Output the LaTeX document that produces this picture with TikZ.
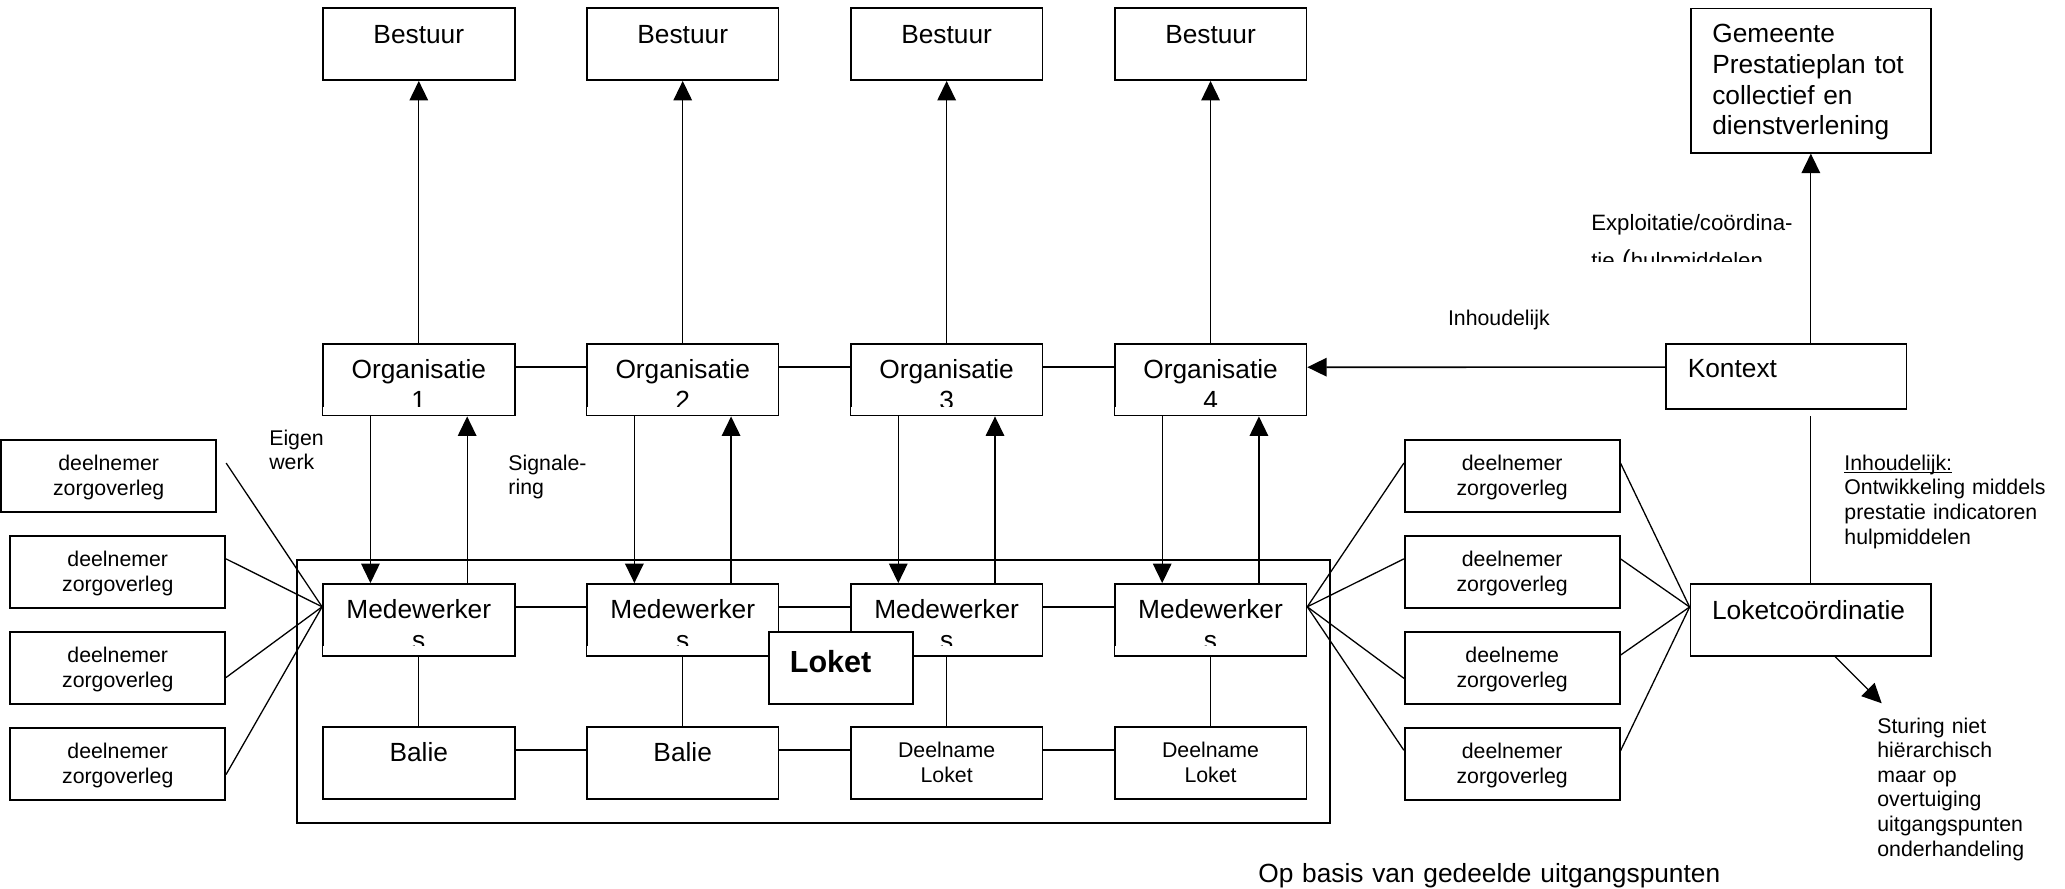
\documentclass[tikz,border=0pt]{standalone}
\usepackage{fontspec}
\setmainfont{Liberation Sans}
\usetikzlibrary{arrows.meta,positioning,calc}
\newcommand{\groot}{\fontsize{14.2}{16.6}\selectfont}
\newcommand{\klein}{\fontsize{11.5}{13.3}\selectfont}
\newcommand{\onderstreep}[1]{\setbox0\hbox{#1}\rlap{\rule[-1.5pt]{\wd0}{0.6pt}}\box0}

\begin{document}
\begin{tikzpicture}[> = {Triangle[length=10.5pt,width=10pt]}, line width=0.7pt]
            % Stijlen
            \tikzstyle{blok}=[draw, fill=white, line width=0.9pt, inner sep=0pt, align=center, font=\groot, text width=3.64cm, text height=18.85pt, text depth=19.92pt]
            \tikzstyle{deel}=[blok, font=\klein, text width=4.08cm, text height=16.5pt, text depth=22.27pt]
            \tikzstyle{tekstblok}=[blok, align=left, inner xsep=11.7pt, text width=4.5625cm-23.4pt]
            \tikzstyle{schakel}=[line width=0.9pt]
            \tikzstyle{tekst}=[anchor=base west, align=left, font=\klein, inner sep=0pt, text width=4.5cm]

            \useasboundingbox (0,0) rectangle (39.2,-16.875);

            % Kader rond het loket
            \node[draw, line width=0.9pt, minimum width=19.6125cm, minimum height=5cm, inner sep=0pt] (kader) at (15.444,-13.125) {};

            % Bestuur
            \node[blok] (b1) at (7.95,-0.839) {Bestuur};
            \node[blok] (b2) at (12.96,-0.839) {Bestuur};
            \node[blok] (b3) at (17.97,-0.839) {Bestuur};
            \node[blok] (b4) at (22.98,-0.839) {Bestuur};

            % Organisaties
            \node[blok] (o1) at (7.95,-7.2075) {Organisatie\\1};
            \node[blok] (o2) at (12.96,-7.2075) {Organisatie\\2};
            \node[blok] (o3) at (17.97,-7.2075) {Organisatie\\3};
            \node[blok] (o4) at (22.98,-7.2075) {Organisatie\\4};

            % Medewerkers
            \node[blok] (m1) at (7.95,-11.766) {Medewerker\\s};
            \node[blok] (m2) at (12.96,-11.766) {Medewerker\\s};
            \node[blok] (m3) at (17.97,-11.766) {Medewerker\\s};
            \node[blok] (m4) at (22.98,-11.766) {Medewerker\\s};

            % Balies
            \node[blok] (u1) at (7.95,-14.481) {Balie};
            \node[blok] (u2) at (12.96,-14.481) {Balie};
            \node[deel, text width=3.64cm] (u3) at (17.97,-14.481) {Deelname\\Loket};
            \node[deel, text width=3.64cm] (u4) at (22.98,-14.481) {Deelname\\Loket};

            % Deelnemers zorgoverleg
            \node[deel] (dl1) at (2.0625,-9.0375) {deelnemer\\zorgoverleg};
            \node[deel] (dl2) at (2.235,-10.856) {deelnemer\\zorgoverleg};
            \node[deel] (dl3) at (2.235,-12.683) {deelnemer\\zorgoverleg};
            \node[deel] (dl4) at (2.235,-14.5) {deelnemer\\zorgoverleg};
            \node[deel] (dr1) at (28.706,-9.0375) {deelnemer\\zorgoverleg};
            \node[deel] (dr2) at (28.706,-10.856) {deelnemer\\zorgoverleg};
            \node[deel] (dr3) at (28.706,-12.683) {deelneme\\zorgoverleg};
            \node[deel] (dr4) at (28.706,-14.5) {deelnemer\\zorgoverleg};

            % Gemeente, kontext en coordinatie
            \node[tekstblok, text height=18.5pt, text depth=59.5pt] (ge) at (34.375,-1.529) {Gemeente\\Prestatieplan tot\\collectief en\\dienstverlening};
            \node[tekstblok, text height=18.5pt, text depth=16.8pt] (ko) at (33.91,-7.145) {Kontext};
            \node[tekstblok] (lc) at (34.371,-11.77) {Loketcoördinatie};
            \coordinate (stuur) at (35.72,-13.35);

            % Teksten
            \node[tekst] (eigen) at (5.1,-8.45) {Eigen\\werk};
            \node[tekst] (signaal) at (9.64,-8.925) {Signale-\\ring};
            \node[tekst] (inhoud) at (27.475,-6.1875) {Inhoudelijk};
            \node[tekst] (ontwikkeling) at (35.0,-8.925) {\onderstreep{Inhoudelijk:}\\Ontwikkeling middels\\prestatie indicatoren\\hulpmiddelen};
            \node[tekst] (sturing) at (35.625,-13.915) {Sturing niet\\hiërarchisch\\maar op\\overtuiging\\uitgangspunten\\onderhandeling};
            \node[tekst, font=\groot, text width=9cm] (basis) at (23.875,-16.75) {Op basis van gedeelde uitgangspunten};
            \begin{scope}
                \clip (30,-3.6) rectangle (34.2,-4.9675);
                \node[tekst, font=\fontsize{12}{20.5}\selectfont] (exploitatie) at (30.195,-4.375) {Exploitatie/coördina-\\tie {\fontsize{14}{14}\selectfont(}hulpmiddelen};
            \end{scope}

            % Verbindingen naar bestuur
            \draw[->] (o1) -- (b1);
            \draw[->] (o2) -- (b2);
            \draw[->] (o3) -- (b3);
            \draw[->] (o4) -- (b4);

            % Eigen werk en signalering
            \draw[->] ($(o1.south west)!.25!(o1.south east)$) -- ($(m1.north west)!.25!(m1.north east)$);
            \draw[->] ($(m1.north west)!.75!(m1.north east)$) -- ($(o1.south west)!.75!(o1.south east)$);
            \draw[->] ($(o2.south west)!.25!(o2.south east)$) -- ($(m2.north west)!.25!(m2.north east)$);
            \draw[->] ($(m2.north west)!.75!(m2.north east)$) -- ($(o2.south west)!.75!(o2.south east)$);
            \draw[->] ($(o3.south west)!.25!(o3.south east)$) -- ($(m3.north west)!.25!(m3.north east)$);
            \draw[->] ($(m3.north west)!.75!(m3.north east)$) -- ($(o3.south west)!.75!(o3.south east)$);
            \draw[->] ($(o4.south west)!.25!(o4.south east)$) -- ($(m4.north west)!.25!(m4.north east)$);
            \draw[->] ($(m4.north west)!.75!(m4.north east)$) -- ($(o4.south west)!.75!(o4.south east)$);

            % Horizontale schakels
            \draw[schakel] ([yshift=-0.46cm]o1.north east) -- ([yshift=-0.46cm]o2.north west);
            \draw[schakel] ([yshift=-0.46cm]o2.north east) -- ([yshift=-0.46cm]o3.north west);
            \draw[schakel] ([yshift=-0.46cm]o3.north east) -- ([yshift=-0.46cm]o4.north west);
            \draw[schakel] ([yshift=-0.45cm]m1.north east) -- ([yshift=-0.45cm]m2.north west);
            \draw[schakel] ([yshift=-0.45cm]m2.north east) -- ([yshift=-0.45cm]m3.north west);
            \draw[schakel] ([yshift=-0.45cm]m3.north east) -- ([yshift=-0.45cm]m4.north west);
            \draw[schakel] ([yshift=-0.45cm]u1.north east) -- ([yshift=-0.45cm]u2.north west);
            \draw[schakel] ([yshift=-0.45cm]u2.north east) -- ([yshift=-0.45cm]u3.north west);
            \draw[schakel] ([yshift=-0.45cm]u3.north east) -- ([yshift=-0.45cm]u4.north west);
            \draw[schakel, ->] ([yshift=-0.46cm]ko.north west) -- ([yshift=-0.46cm]o4.north east);

            % Medewerkers naar balie
            \draw (m1) -- (u1);
            \draw (m2) -- (u2);
            \draw (m3) -- (u3);
            \draw (m4) -- (u4);

            % Zorgoverleg links
            \draw ([xshift=0.175cm,yshift=-0.45cm]dl1.north east) -- ([yshift=-0.45cm]m1.north west);
            \draw ([yshift=-0.45cm]dl2.north east) -- ([yshift=-0.45cm]m1.north west);
            \draw ([yshift=-0.875cm]dl3.north east) -- ([yshift=-0.45cm]m1.north west);
            \draw ([yshift=-0.9cm]dl4.north east) -- ([yshift=-0.45cm]m1.north west);

            % Zorgoverleg rechts
            \draw ([yshift=-0.45cm]m4.north east) -- ([yshift=-0.45cm]dr1.north west);
            \draw ([yshift=-0.45cm]m4.north east) -- ([yshift=-0.45cm]dr2.north west);
            \draw ([yshift=-0.45cm]m4.north east) -- ([yshift=-0.89cm]dr3.north west);
            \draw ([yshift=-0.45cm]m4.north east) -- ([yshift=-0.44cm]dr4.north west);
            \draw ([yshift=-0.45cm]dr1.north east) -- ([yshift=-0.45cm]lc.north west);
            \draw ([yshift=-0.45cm]dr2.north east) -- ([yshift=-0.45cm]lc.north west);
            \draw ([yshift=-0.45cm]dr3.north east) -- ([yshift=-0.45cm]lc.north west);
            \draw ([yshift=-0.45cm]dr4.north east) -- ([yshift=-0.45cm]lc.north west);

            % Kontext, gemeente en sturing
            \draw[->] (ge.south |- ko.north) -- (ge.south);
            \draw (lc.north) -- ([yshift=-0.125cm]lc.north |- ko.south);
            \draw[->] ([xshift=0.466cm]lc.south) -- (stuur);

            % Afgekapte tekst
            \fill[white] ([shift={(0.6pt,0.6pt)}]o1.south west) rectangle ([shift={(-0.6pt,0.18cm)}]o1.south east);
            \fill[white] ([shift={(0.6pt,0.6pt)}]o2.south west) rectangle ([shift={(-0.6pt,0.18cm)}]o2.south east);
            \fill[white] ([shift={(0.6pt,0.6pt)}]o3.south west) rectangle ([shift={(-0.6pt,0.18cm)}]o3.south east);
            \fill[white] ([shift={(0.6pt,0.6pt)}]o4.south west) rectangle ([shift={(-0.6pt,0.18cm)}]o4.south east);
            \fill[white] ([shift={(0.6pt,0.6pt)}]m1.south west) rectangle ([shift={(-0.6pt,0.2cm)}]m1.south east);
            \fill[white] ([shift={(0.6pt,0.6pt)}]m2.south west) rectangle ([shift={(-0.6pt,0.2cm)}]m2.south east);
            \fill[white] ([shift={(0.6pt,0.6pt)}]m3.south west) rectangle ([shift={(-0.6pt,0.2cm)}]m3.south east);
            \fill[white] ([shift={(0.6pt,0.6pt)}]m4.south west) rectangle ([shift={(-0.6pt,0.2cm)}]m4.south east);

            % Loket
            \node[blok, font=\fontsize{16.5}{19}\selectfont\bfseries, align=left, inner xsep=11.2pt, text width=2.725cm-22.4pt, text height=21.8pt, text depth=17pt] (loket) at (15.9625,-12.683) {Loket};
        \end{tikzpicture}
\end{document}
